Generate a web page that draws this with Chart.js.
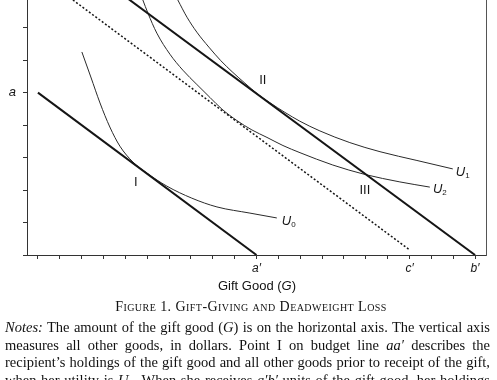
<!DOCTYPE html>
<html>
<head>
<meta charset="utf-8">
<script src="https://cdn.jsdelivr.net/npm/chart.js@4/dist/chart.umd.min.js"></script>
<style>
  html, body { margin:0; padding:0; background:#fff; }
  #wrap { position:relative; width:497px; height:380px; overflow:hidden; background:#fff; }
  #c { position:absolute; left:0; top:0; }
  .xt { position:absolute; left:0; top:278px; width:514px; text-align:center;
        font:13px/15px "Liberation Sans", Arial, sans-serif; color:#111; }
  .cap { position:absolute; left:0; top:298px; width:502px; text-align:center;
        font:14px/17px "Liberation Serif", "Times New Roman", serif; font-variant:small-caps; letter-spacing:0.45px; color:#111; }
  .notes { position:absolute; left:5px; top:319px; width:485px;
        font:14.5px/17.5px "Liberation Serif", "Times New Roman", serif; color:#111; }
  .notes div { text-align:justify; text-align-last:justify; white-space:nowrap; }
</style>
</head>
<body>
<div id="wrap">
<canvas id="c" width="497" height="380"></canvas>
<div class="xt">Gift Good (<i>G</i>)</div>
<div class="cap">Figure 1. Gift-Giving and Deadweight Loss</div>
<div class="notes">
  <div><i>Notes:</i> The amount of the gift good (<i>G</i>) is on the horizontal axis. The vertical axis</div>
  <div>measures all other goods, in dollars. Point I on budget line <i>aa′</i> describes the</div>
  <div>recipient’s holdings of the gift good and all other goods prior to receipt of the gift,</div>
  <div>when her utility is <i>U</i><sub style="font-size:10px;line-height:0">0</sub>. When she receives <i>a′b′</i> units of the gift good, her holdings</div>
</div>
</div>
<script>
// ---- axis ticks ----
const xTickValues = [0,1,2,3,4,5,6,7,8,9,10,11,12,13,14,15,16,17,18,19,20];
const xLabelValues = [10, 17, 20];
const xLabelTexts  = ["a′", "c′", "b′"];
const yTickValues = [0,1,2,3,4,5,6,7];
const yLabelValues = [5];
const yLabelTexts  = ["a"];

// ---- budget lines ----
const budgetAX = [0, 10];
const budgetAY = [5, 0];
const budgetBX = [4, 20];
const budgetBY = [7.95, 0];
const budgetCX = [1.6, 17.0];
const budgetCY = [7.85, 0.16];

// ---- indifference curves ----
const u0X = [2.01, 2.42, 2.84, 3.29, 3.75, 4.35, 4.99, 5.90, 7.04, 8.19, 9.70, 10.93];
const u0Y = [6.25, 5.48, 4.68, 3.94, 3.35, 2.86, 2.52, 2.12, 1.75, 1.48, 1.29, 1.14];
const u1X = [6.40, 6.82, 7.27, 7.82, 8.37, 8.92, 9.47, 10.06, 10.61, 11.30, 11.98, 12.90, 14.27, 15.65, 17.34, 18.98];
const u1Y = [7.85, 7.32, 6.86, 6.40, 5.98, 5.62, 5.29, 4.95, 4.69, 4.39, 4.12, 3.82, 3.46, 3.18, 2.91, 2.65];
const u2X = [4.80, 5.03, 5.44, 6.04, 6.63, 7.27, 7.87, 8.42, 9.10, 9.79, 10.48, 11.21, 11.99, 13.49, 14.96, 16.56, 17.93];
const u2Y = [7.85, 7.45, 6.83, 6.18, 5.69, 5.25, 4.85, 4.49, 4.14, 3.85, 3.62, 3.37, 3.15, 2.77, 2.48, 2.25, 2.09];

// ---- in-plot annotations (anchor in data units) ----
const pointLabelTexts = ["I", "II", "III"];
const pointLabelX = [4.48, 10.29, 14.96];
const pointLabelY = [2.22, 5.38, 2.0];
const curveLabelSubs = ["0", "1", "2"];
const curveLabelX = [11.16, 19.12, 18.07];
const curveLabelY = [1.05, 2.55, 2.03];

const zip = (xs, ys) => xs.map((x, i) => ({x, y: ys[i]}));

const ink = '#151515';
const thin = '#2a2a2a';

const labelPlugin = {
  id: 'labels',
  afterDatasetsDraw(chart) {
    const {ctx, scales:{x, y}} = chart;
    ctx.save();
    ctx.fillStyle = ink;
    ctx.textBaseline = 'middle';
    ctx.textAlign = 'center';
    ctx.font = '13px "Liberation Sans", Arial, sans-serif';
    pointLabelTexts.forEach((t, i) => {
      ctx.fillText(t, x.getPixelForValue(pointLabelX[i]), y.getPixelForValue(pointLabelY[i]));
    });
    ctx.textAlign = 'left';
    curveLabelSubs.forEach((s, i) => {
      const px = x.getPixelForValue(curveLabelX[i]);
      const py = y.getPixelForValue(curveLabelY[i]);
      ctx.font = 'italic 13px "Liberation Sans", Arial, sans-serif';
      ctx.fillText('U', px, py);
      const w = ctx.measureText('U').width;
      ctx.font = '8px "Liberation Sans", Arial, sans-serif';
      ctx.fillText(s, px + w, py + 4);
    });
    ctx.restore();
  }
};

const fixTicks = (vals) => (s) => { s.ticks = vals.map(v => ({value: v})); };

new Chart(document.getElementById('c'), {
  type: 'line',
  data: {
    datasets: [
      {data: zip(budgetAX, budgetAY), borderColor: ink, borderWidth: 2},
      {data: zip(budgetBX, budgetBY), borderColor: ink, borderWidth: 2},
      {data: zip(budgetCX, budgetCY), borderColor: ink, borderWidth: 1.5, borderDash: [2, 2]},
      {data: zip(u0X, u0Y), borderColor: thin, borderWidth: 1, cubicInterpolationMode: 'monotone'},
      {data: zip(u1X, u1Y), borderColor: thin, borderWidth: 1, cubicInterpolationMode: 'monotone'},
      {data: zip(u2X, u2Y), borderColor: thin, borderWidth: 1, cubicInterpolationMode: 'monotone'}
    ]
  },
  options: {
    responsive: false,
    animation: false,
    devicePixelRatio: 1,
    elements: { point: { radius: 0 }, line: { fill: false } },
    layout: { padding: { left: 0, right: 0, top: 0, bottom: 105 } },
    plugins: { legend: { display: false }, tooltip: { enabled: false }, title: { display: false } },
    scales: {
      x: {
        type: 'linear', min: -0.5, max: 20.5,
        afterBuildTicks: fixTicks(xTickValues),
        afterFit: (s) => { s.height = 20; s.paddingLeft = 0; s.paddingRight = 0; },
        ticks: {
          autoSkip: false, maxRotation: 0, minRotation: 0, padding: 2, color: ink,
          font: { family: '"Liberation Sans", Arial, sans-serif', size: 12, style: 'italic' },
          callback: (v) => { const i = xLabelValues.indexOf(v); return i >= 0 ? xLabelTexts[i] : ''; }
        },
        grid: { drawOnChartArea: false, drawTicks: true, tickLength: 4, color: '#333', lineWidth: 1 },
        border: { display: true, color: '#333', width: 1 }
      },
      y: {
        type: 'linear', min: 0, max: 7.85,
        afterBuildTicks: fixTicks(yTickValues),
        afterFit: (s) => { s.width = 27; s.paddingTop = 0; s.paddingBottom = 0; },
        ticks: {
          autoSkip: false, padding: 7, color: ink,
          font: { family: '"Liberation Sans", Arial, sans-serif', size: 13, style: 'italic' },
          callback: (v) => { const i = yLabelValues.indexOf(v); return i >= 0 ? yLabelTexts[i] : ''; }
        },
        grid: { drawOnChartArea: false, drawTicks: true, tickLength: 4, color: '#333', lineWidth: 1 },
        border: { display: true, color: '#333', width: 1 }
      },
      y2: {
        type: 'linear', position: 'right', min: 0, max: 7.85,
        afterFit: (s) => { s.width = 11; s.paddingTop = 0; s.paddingBottom = 0; },
        ticks: { display: false },
        grid: { drawOnChartArea: false, drawTicks: false },
        border: { display: true, color: '#555', width: 1 }
      }
    }
  },
  plugins: [labelPlugin]
});
</script>
</body>
</html>
